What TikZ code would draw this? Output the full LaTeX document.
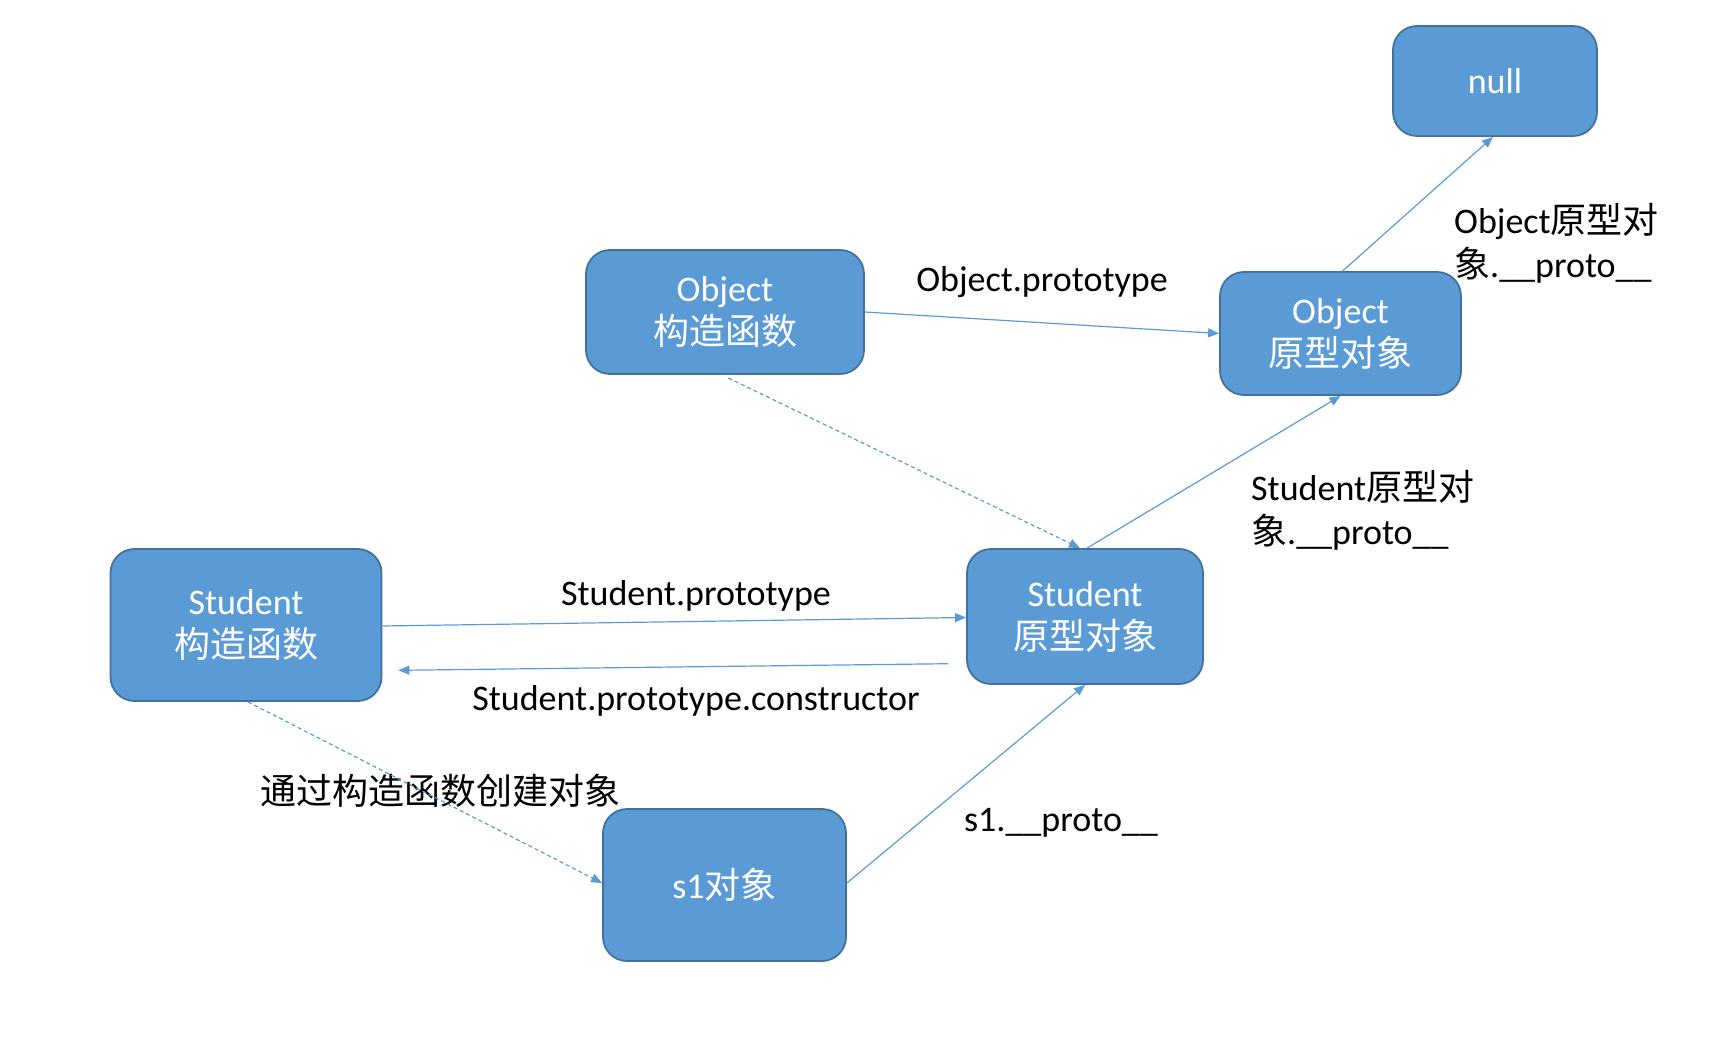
\documentclass[tikz,border=0pt]{standalone}
\usepackage{fontspec}
\setmainfont{Carlito}
\newfontfamily\cjk{Noto Sans CJK SC}
\usetikzlibrary{arrows.meta}
\definecolor{boxfill}{HTML}{5B9BD5}
\definecolor{boxline}{HTML}{41719C}
\definecolor{conn}{HTML}{5B9BD5}
\newcommand{\zh}[1]{{\cjk #1}}
\tikzset{
  box/.style={draw=boxline, line width=1.8pt, fill=boxfill, rounded corners=24pt,
    text=white, align=center, font=\fontsize{36}{43}\selectfont, inner sep=0pt},
  lbl/.style={text=black, font=\fontsize{36}{44}\selectfont, inner sep=0pt},
  conn/.style={draw=conn, line width=1.2pt, -{Triangle[length=11pt,width=9pt]}},
  dconn/.style={conn, dash pattern=on 4pt off 3pt}
}
\begin{document}
\begin{tikzpicture}[x=1pt,y=-1pt]
\useasboundingbox (0,0) rectangle (1719,1040);
\node[box, minimum width=204pt, minimum height=110pt] (nul) at (1495,81) {null};
\node[box, minimum width=241pt, minimum height=123pt] (op) at (1340.5,333.5) {Object\\\zh{原型对象}};
\node[box, minimum width=278pt, minimum height=124pt] (oc) at (725,312) {Object\\\zh{构造函数}};
\node[box, minimum width=271pt, minimum height=152pt] (sc) at (246,625) {Student\\\zh{构造函数}};
\node[box, minimum width=236pt, minimum height=135pt] (sp) at (1085,616.5) {Student\\\zh{原型对象}};
\node[box, minimum width=243pt, minimum height=152pt] (s1) at (724.5,885) {s1\zh{对象}};

\node[lbl, align=left, anchor=west] (l1) at (1454,243) {Object\zh{原型对}\\\zh{象}.\_\_proto\_\_};
\node[lbl] (l2) at (1042,282) {Object.prototype};
\node[lbl, align=left, anchor=west] (l3) at (1251,510) {Student\zh{原型对}\\\zh{象}.\_\_proto\_\_};
\node[lbl] (l4) at (696,596) {Student.prototype};
\node[lbl] (l5) at (696,701) {Student.prototype.constructor};
\node[lbl] (l6) at (440,791) {\zh{通过构造函数创建对象}};
\node[lbl] (l7) at (1061,823) {s1.\_\_proto\_\_};

\draw[conn] (oc.east) -- (op.west);
\draw[dconn, shorten <=7pt] ([xshift=-3pt]oc.south) -- ([xshift=-5pt]sp.north);
\draw[conn] ([xshift=2pt]sp.north) -- (op.south);
\draw[conn] ([xshift=2pt]op.north) -- ([xshift=-2pt]nul.south);
\draw[conn] ([yshift=-1pt]sc.east) -- ([yshift=-1pt]sp.west);
\draw[conn, shorten <=18pt, shorten >=16pt] ([yshift=-47pt]sp.west) -- ([yshift=-45.5pt]sc.east);
\draw[dconn] ([xshift=2pt]sc.south) -- ([yshift=2pt]s1.west);
\draw[conn] ([yshift=2pt]s1.east) -- (sp.south);
\end{tikzpicture}
\end{document}
